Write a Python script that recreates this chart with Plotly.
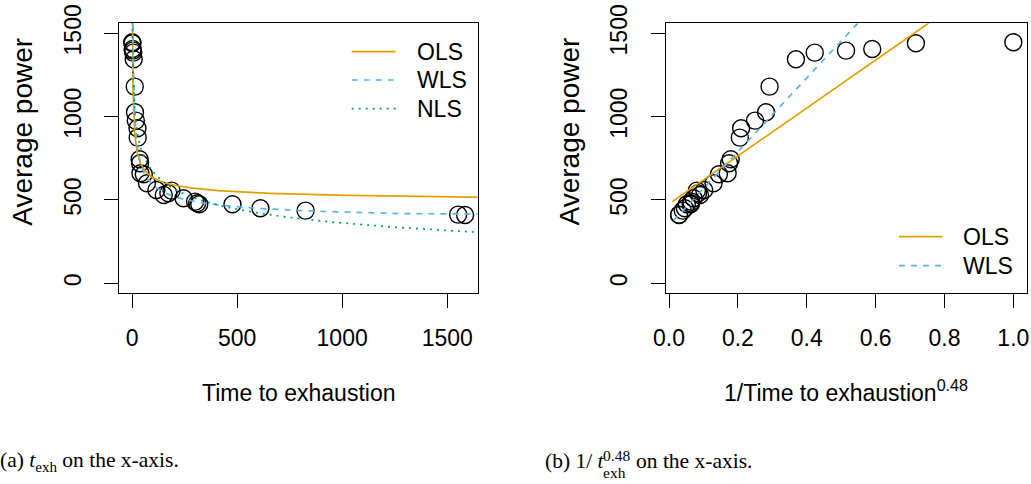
import numpy as np
import plotly.graph_objects as go

# ---------------- data ----------------
t_exh = [1, 2, 3, 4, 6, 8, 13, 14, 18, 26, 27, 36, 38, 40, 56, 71, 116, 151,
         173, 188, 245, 300, 310, 320, 478, 611, 826, 1552, 1585]
power = [1446, 1440, 1406, 1396, 1384, 1344, 1180, 1026, 976, 930, 874, 744,
         720, 660, 654, 600, 560, 530, 540, 556, 510, 490, 480, 474, 474, 450,
         436, 412, 410]
exponent = 0.48
# fitted model coefficients: P = a + b / t^c
ols_coef = dict(a=476.0, b=1439.0, c=exponent)
wls_coef = dict(a=347.0, b=2213.0, c=exponent)
nls_coef = dict(a=-500.0, b=2150.0, c=0.1324)

x_ticks_left = [0, 500, 1000, 1500]
x_ticks_right = [0.0, 0.2, 0.4, 0.6, 0.8, 1.0]
x_ticklabels_right = ["0.0", "0.2", "0.4", "0.6", "0.8", "1.0"]
y_ticks = [0, 500, 1000, 1500]

# ---------------- styling ----------------
W, H = 1031, 484
ORANGE = "#E69F00"
BLUE = "#56B4E9"
GREEN = "#009E73"
SANS = "Liberation Sans"
SERIF = "Liberation Serif"
FS = 23
DASH = "6px,6px"
DOT = "2px,5px"


def px(x):
    return x / W


def py(y):
    return 1 - y / H


t = np.array(t_exh, dtype=float)
p = np.array(power, dtype=float)
x_tr = 1.0 / t ** exponent

t_grid = np.geomspace(1, 16000, 600)


def model(coef, tt):
    return coef["a"] + coef["b"] / tt ** coef["c"]


marker = dict(symbol="circle-open", size=17, color="black",
              line=dict(width=1.4, color="black"))

fig = go.Figure()

# left panel
fig.add_trace(go.Scatter(x=t, y=p, mode="markers", xaxis="x", yaxis="y",
                         marker=marker, showlegend=False, hoverinfo="skip"))
fig.add_trace(go.Scatter(x=t_grid, y=model(ols_coef, t_grid), mode="lines",
                         xaxis="x", yaxis="y", line=dict(color=ORANGE, width=1.7),
                         showlegend=False))
fig.add_trace(go.Scatter(x=t_grid, y=model(wls_coef, t_grid), mode="lines",
                         xaxis="x", yaxis="y",
                         line=dict(color=BLUE, width=1.7, dash=DASH),
                         showlegend=False))
fig.add_trace(go.Scatter(x=t_grid, y=model(nls_coef, t_grid), mode="lines",
                         xaxis="x", yaxis="y",
                         line=dict(color=GREEN, width=1.7, dash=DOT),
                         showlegend=False))

# right panel
xg = 1.0 / t_grid ** exponent
fig.add_trace(go.Scatter(x=x_tr, y=p, mode="markers", xaxis="x2", yaxis="y2",
                         marker=marker, showlegend=False, hoverinfo="skip"))
fig.add_trace(go.Scatter(x=xg, y=ols_coef["a"] + ols_coef["b"] * xg, mode="lines",
                         xaxis="x2", yaxis="y2", line=dict(color=ORANGE, width=1.7),
                         showlegend=False))
fig.add_trace(go.Scatter(x=xg, y=wls_coef["a"] + wls_coef["b"] * xg, mode="lines",
                         xaxis="x2", yaxis="y2",
                         line=dict(color=BLUE, width=1.7, dash=DASH),
                         showlegend=False))

axis_common = dict(showline=True, linecolor="black", linewidth=1.3, mirror=True,
                   ticks="outside", ticklen=14, tickwidth=1.3, tickcolor="black",
                   showgrid=False, zeroline=False, automargin=False,
                   tickfont=dict(family=SANS, size=FS, color="black"))

fig.update_layout(
    template="none",
    width=W, height=H,
    margin=dict(l=0, r=0, t=0, b=0, autoexpand=False),
    paper_bgcolor="white", plot_bgcolor="white",
    xaxis=dict(domain=[px(119), px(477.7)], range=[-62, 1645],
               tickvals=x_ticks_left, anchor="y", ticklabelstandoff=10, **axis_common),
    yaxis=dict(domain=[py(293.3), py(23.3)], range=[-60, 1560],
               tickvals=y_ticks, tickangle=-90, anchor="x", ticklabelstandoff=14,
               **axis_common),
    xaxis2=dict(domain=[px(665.7), px(1026.7)], range=[-0.0097, 1.0388],
                tickvals=x_ticks_right, ticktext=x_ticklabels_right, anchor="y2",
                ticklabelstandoff=10, **axis_common),
    yaxis2=dict(domain=[py(293.3), py(23.3)], range=[-60, 1560],
                tickvals=y_ticks, tickangle=-90, anchor="x2", ticklabelstandoff=14,
                **axis_common),
)

ann = []
shapes = []


def text(x, y, s, size=FS, family=SANS, xanchor="center", yanchor="middle", angle=0):
    ann.append(dict(x=px(x), y=py(y), xref="paper", yref="paper", text=s,
                    showarrow=False, xanchor=xanchor, yanchor=yanchor,
                    textangle=angle, borderpad=0,
                    font=dict(family=family, size=size, color="black")))


# axis titles
text(298.4, 393, "Time to exhaustion")
text(846, 391, "1/Time to exhaustion<sup>0.48</sup>")
text(21.7, 132, "Average power", size=28, angle=-90)
text(568.5, 132, "Average power", size=28, angle=-90)


# legends
def legend_item(x0, x1, y, tx, label, color, dash):
    shapes.append(dict(type="line", xref="paper", yref="paper",
                       x0=px(x0), x1=px(x1), y0=py(y), y1=py(y),
                       line=dict(color=color, width=1.7, dash=dash)))
    text(tx, y, label, xanchor="left")


legend_item(351.7, 395.7, 51.7, 416, "OLS", ORANGE, "solid")
legend_item(351.7, 395.7, 80.0, 416, "WLS", BLUE, DASH)
legend_item(351.7, 395.7, 108.7, 416, "NLS", GREEN, DOT)
legend_item(899, 942.7, 236.7, 962, "OLS", ORANGE, "solid")
legend_item(899, 942.7, 265.7, 962, "WLS", BLUE, DASH)

# captions
CAP = 21.5
text(-1, 461, "(a) <i>t</i><sub>exh</sub> on the x-axis.", size=CAP, family=SERIF,
     xanchor="left")
text(544, 461, "(b) 1/ <i>t</i>", size=CAP, family=SERIF, xanchor="left")
text(602, 455, "0.48", size=15.5, family=SERIF, xanchor="left")
text(602, 472, "exh", size=15.5, family=SERIF, xanchor="left")
text(635, 461, "on the x-axis.", size=CAP, family=SERIF, xanchor="left")

fig.update_layout(annotations=ann, shapes=shapes)
fig.write_html("out.html")
